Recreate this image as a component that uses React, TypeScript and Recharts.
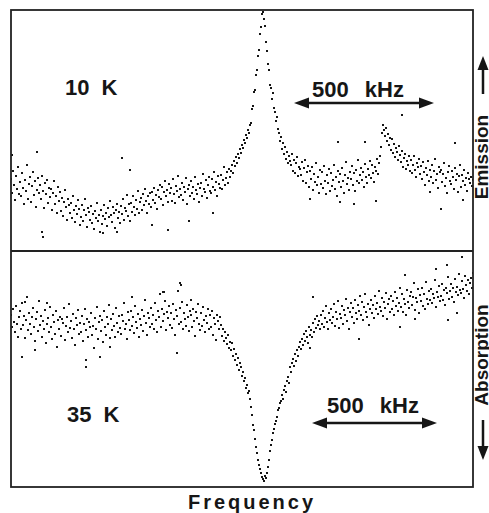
import React from "react";
import { ScatterChart, Scatter, XAxis, YAxis } from "recharts";

// Signal, one value per frequency channel (0..462)
// 10 K – emission trace (upper panel)
const emission10K = [
  72, 58, 80, 66, 51, 75, 62, 84, 57, 69,
  55, 78, 63, 47, 71, 60, 86, 52, 67, 74,
  49, 65, 79, 56, 70, 44, 61, 73, 58, 66,
  52, 75, 60, 43, 68, 57, 71, 48, 63, 54,
  62, 41, 58, 70, 47, 55, 38, 64, 50, 59,
  40, 53, 35, 49, 61, 44, 31, 52, 46, 38,
  48, 33, 55, 41, 29, 45, 37, 51, 42, 26,
  34, 46, 30, 41, 52, 36, 24, 43, 39, 31,
  45, 28, 37, 22, 40, 33, 48, 30, 36, 19,
  41, 27, 35, 46, 32, 38, 25, 43, 34, 50,
  36, 29, 44, 38, 23, 41, 47, 33, 39, 28,
  45, 37, 52, 31, 43, 40, 56, 35, 47, 30,
  48, 39, 55, 44, 36, 51, 42, 60, 38, 49,
  53, 41, 57, 46, 62, 50, 38, 55, 47, 58,
  44, 59, 51, 63, 48, 56, 42, 61, 54, 66,
  52, 64, 46, 59, 70, 55, 61, 49, 67, 58,
  63, 50, 72, 57, 48, 65, 60, 75, 54, 62,
  56, 68, 51, 64, 59, 73, 47, 62, 66, 55,
  70, 58, 64, 52, 74, 61, 57, 67, 49, 63,
  68, 55, 77, 62, 59, 71, 53, 66, 74, 60,
  58, 72, 64, 79, 61, 69, 55, 75, 67, 63,
  76, 62, 71, 84, 66, 73, 79, 68, 82, 74,
  80, 86, 78, 90, 85, 94, 88, 97, 93, 102,
  98, 106, 103, 111, 108, 116, 113, 121, 118, 126,
  128, 142, 145, 159, 161, 176, 181, 195, 201, 217,
  224, 237, 239, 232, 225, 209, 200, 187, 181, 166,
  163, 152, 158, 143, 139, 130, 134, 122, 118, 110,
  114, 102, 108, 97, 104, 92, 99, 88, 95, 90,
  86, 97, 80, 91, 78, 88, 94, 75, 84, 82,
  76, 89, 70, 83, 91, 68, 79, 85, 64, 80,
  72, 84, 61, 77, 69, 88, 66, 74, 58, 81,
  67, 79, 63, 85, 70, 57, 76, 68, 82, 60,
  78, 65, 71, 86, 62, 74, 55, 80, 69, 77,
  64, 83, 70, 58, 76, 89, 67, 73, 61, 79,
  72, 85, 66, 78, 60, 81, 70, 91, 68, 76,
  83, 71, 79, 64, 87, 74, 68, 82, 76, 90,
  73, 86, 78, 69, 84, 80, 92, 77, 88, 95,
  104, 118, 126, 121, 115, 123, 110, 117, 106, 113,
  101, 112, 98, 107, 94, 103, 99, 91, 105, 96,
  89, 100, 84, 93, 97, 82, 90, 86, 95, 80,
  91, 78, 86, 95, 81, 74, 88, 84, 92, 77,
  85, 72, 89, 79, 66, 83, 76, 90, 70, 81,
  74, 86, 68, 80, 92, 71, 77, 63, 84, 79,
  81, 69, 77, 88, 65, 73, 58, 79, 85, 70,
  67, 80, 74, 62, 83, 71, 77, 59, 75, 86,
  64, 76, 70, 81, 66, 73, 60, 78, 72, 68,
  74, 65, 71,
];

// stray points of the 10 K scan (channel, signal)
const emissionStrayF = [1, 26, 31, 32, 92, 106, 111, 119, 141, 157, 178, 202, 299, 327, 329, 343, 354, 365, 391, 419, 430, 444, 452];
const emissionStrayS = [96, 99, 19, 14, 18, 19, 93, 81, 26, 21, 30, 38, 52, 109, 49, 47, 109, 50, 136, 59, 42, 108, 51];

// 35 K – absorption trace (lower panel)
const absorption35K = [
  172, 160, 178, 165, 155, 181, 163, 150, 170, 176,
  158, 184, 162, 171, 149, 167, 190, 157, 174, 163,
  153, 170, 179, 160, 146, 168, 175, 156, 186, 162,
  171, 150, 166, 158, 177, 144, 163, 169, 155, 180,
  160, 148, 172, 165, 153, 176, 140, 167, 158, 170,
  151, 168, 164, 179, 147, 161, 170, 155, 183, 159,
  166, 149, 173, 158, 142, 169, 162, 177, 153, 164,
  155, 171, 146, 163, 178, 157, 168, 150, 165, 160,
  174, 152, 161, 139, 169, 158, 180, 148, 165, 171,
  156, 167, 145, 176, 160, 152, 170, 163, 182, 149,
  168, 157, 173, 161, 150, 179, 164, 155, 171, 159,
  153, 172, 166, 184, 158, 163, 148, 175, 167, 157,
  176, 161, 170, 154, 181, 165, 159, 173, 150, 168,
  162, 177, 156, 171, 187, 164, 152, 174, 169, 160,
  179, 163, 172, 158, 184, 167, 155, 176, 170, 193,
  160, 178, 166, 173, 186, 157, 175, 169, 181, 162,
  174, 159, 183, 168, 152, 177, 171, 196, 163, 179,
  165, 185, 158, 174, 168, 161, 182, 170, 156, 176,
  172, 160, 178, 166, 151, 175, 169, 183, 163, 157,
  174, 161, 180, 167, 155, 171, 164, 178, 158, 172,
  160, 176, 152, 169, 163, 147, 172, 166, 158, 170,
  162, 151, 158, 146, 155, 149, 143, 152, 139, 145,
  137, 144, 131, 138, 127, 133, 122, 129, 117, 124,
  120, 111, 115, 106, 109, 99, 102, 94, 96, 88,
  80, 72, 62, 57, 48, 40, 34, 27, 22, 18,
  14, 10, 8, 6, 11, 9, 14, 20, 27, 36,
  42, 47, 54, 58, 63, 66, 70, 77, 79, 84,
  86, 92, 88, 97, 101, 95, 106, 110, 104, 120,
  115, 124, 128, 121, 133, 126, 137, 131, 140, 145,
  138, 148, 142, 153, 146, 156, 150, 144, 160, 152,
  157, 150, 164, 155, 168, 159, 171, 162, 166, 158,
  172, 163, 176, 160, 169, 181, 165, 158, 174, 167,
  178, 164, 170, 183, 161, 175, 168, 186, 159, 173,
  169, 181, 163, 177, 172, 188, 166, 179, 158, 175,
  184, 170, 179, 164, 187, 174, 168, 182, 176, 191,
  172, 185, 167, 180, 193, 175, 170, 183, 162, 178,
  187, 174, 182, 169, 191, 178, 184, 173, 196, 180,
  176, 189, 171, 185, 179, 194, 168, 183, 188, 175,
  191, 178, 186, 172, 195, 181, 189, 176, 184, 199,
  180, 193, 175, 188, 183, 172, 197, 185, 179, 191,
  195, 182, 190, 204, 177, 189, 185, 198, 174, 192,
  186, 199, 181, 193, 178, 205, 188, 183, 196, 187,
  198, 184, 193, 189, 207, 180, 195, 190, 201, 186,
  191, 203, 187, 197, 182, 199, 194, 210, 188, 196,
  203, 190, 199, 185, 208, 195, 200, 192, 213, 197,
  194, 206, 198, 189, 211, 202, 196, 207, 193, 204,
  209, 199, 214,
];

// stray points of the 35 K scan (channel, signal)
const absorptionStrayF = [11, 14, 24, 36, 75, 75, 89, 99, 121, 152, 153, 166, 169, 170, 180, 299, 302, 348, 389, 394, 404, 425, 436, 437, 446, 451];
const absorptionStrayS = [130, 185, 137, 184, 120, 127, 130, 140, 190, 195, 195, 134, 204, 202, 187, 139, 190, 148, 160, 212, 168, 218, 222, 167, 174, 230];

const FONT = "'Liberation Sans', Arial, Helvetica, sans-serif";
const INK = "#161616";

const toPoints = (values: number[]) => values.map((s, i) => ({ f: i, s }));
const toPairs = (fs: number[], ss: number[]) => fs.map((f, i) => ({ f, s: ss[i] }));

const Dot = (props: any) => {
  const { cx, cy } = props;
  if (cx == null || cy == null) return null;
  return <rect x={cx - 1} y={cy - 1} width={2} height={2} fill={INK} />;
};

const Panel = ({ values, strays, top, height }: { values: number[]; strays: { f: number; s: number }[]; top: number; height: number }) => (
  <div style={{ position: "absolute", left: 11, top, width: 462, height }}>
    <ScatterChart width={462} height={height} margin={{ top: 0, right: 0, bottom: 0, left: 0 }}>
      <XAxis dataKey="f" type="number" domain={[0, 462]} hide />
      <YAxis dataKey="s" type="number" domain={[0, height]} hide allowDataOverflow />
      <Scatter data={toPoints(values)} shape={<Dot />} isAnimationActive={false} />
      <Scatter data={strays} shape={<Dot />} isAnimationActive={false} />
    </ScatterChart>
  </div>
);

// horizontal double-headed arrow
const HArrow = ({ x1, x2, y }: { x1: number; x2: number; y: number }) => (
  <g fill={INK} stroke="none">
    <line x1={x1 + 10} y1={y} x2={x2 - 10} y2={y} stroke={INK} strokeWidth={2.5} />
    <polygon points={`${x1},${y} ${x1 + 15},${y - 5.5} ${x1 + 15},${y + 5.5}`} />
    <polygon points={`${x2},${y} ${x2 - 15},${y - 5.5} ${x2 - 15},${y + 5.5}`} />
  </g>
);

const labelStyle = { fontFamily: FONT, fontWeight: 700, fill: INK } as const;

export default function App() {
  return (
    <div style={{ position: "absolute", left: 0, top: 0, width: 489, height: 513, background: "#fff", overflow: "hidden" }}>
      <Panel values={emission10K} strays={toPairs(emissionStrayF, emissionStrayS)} top={10} height={241} />
      <Panel values={absorption35K} strays={toPairs(absorptionStrayF, absorptionStrayS)} top={251} height={236} />

      <svg width={489} height={513} style={{ position: "absolute", left: 0, top: 0, pointerEvents: "none" }}>
        {/* frame */}
        <rect x={11} y={10} width={462} height={477} fill="none" stroke="#222" strokeWidth={1.8} />
        <line x1={11} y1={251} x2={473} y2={251} stroke="#222" strokeWidth={1.8} />

        {/* upper panel labels */}
        <text x={65} y={95} fontSize={22} style={{ ...labelStyle, wordSpacing: 6 }}>10 K</text>
        <text x={312} y={97} fontSize={22} style={{ ...labelStyle, wordSpacing: 10 }}>500 kHz</text>
        <HArrow x1={294} x2={434} y={103} />

        {/* lower panel labels */}
        <text x={67} y={422} fontSize={22} style={{ ...labelStyle, wordSpacing: 6 }}>35 K</text>
        <text x={327} y={413} fontSize={22} style={{ ...labelStyle, wordSpacing: 10 }}>500 kHz</text>
        <HArrow x1={312} x2={437} y={423} />

        {/* right-hand axis captions */}
        <text x={488} y={157} fontSize={19} textAnchor="middle" transform="rotate(-90 488 157)" style={labelStyle}>Emission</text>
        <line x1={483} y1={66} x2={483} y2={94} stroke={INK} strokeWidth={2.5} />
        <polygon points="483,56 477.5,70 488.5,70" fill={INK} />

        <text x={488} y={355} fontSize={19} textAnchor="middle" transform="rotate(-90 488 355)" style={labelStyle}>Absorption</text>
        <line x1={483} y1={420} x2={483} y2={450} stroke={INK} strokeWidth={2.5} />
        <polygon points="483,460 477.5,446 488.5,446" fill={INK} />

        <text x={252} y={509} fontSize={20} textAnchor="middle" style={{ ...labelStyle, letterSpacing: 3 }}>Frequency</text>
      </svg>
    </div>
  );
}
